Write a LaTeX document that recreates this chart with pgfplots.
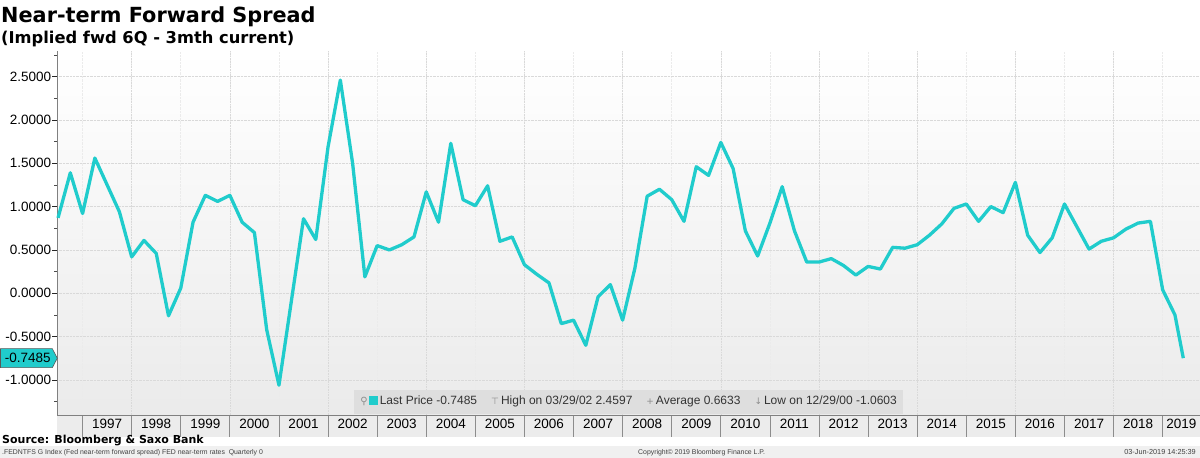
\documentclass[border=0pt]{standalone}
\usepackage{fontspec}
\setmainfont{Liberation Sans}
\newfontfamily\titlefont{DejaVu Sans}
\newfontfamily\symfont{DejaVu Sans}
\usepackage{pgfplots}
\pgfplotsset{compat=1.18}
\definecolor{bbcyan}{RGB}{32,204,204}
\definecolor{bandgray}{RGB}{236,236,236}
\definecolor{leggray}{RGB}{222,222,222}
\definecolor{footgray}{RGB}{240,240,240}

\pgfplotstableread{
x y
1996.50 0.87
1996.75 1.39
1997.00 0.92
1997.25 1.56
1997.50 1.25
1997.75 0.94
1998.00 0.42
1998.25 0.61
1998.50 0.46
1998.75 -0.26
1999.00 0.06
1999.25 0.82
1999.50 1.13
1999.75 1.06
2000.00 1.13
2000.25 0.82
2000.50 0.70
2000.75 -0.42
2001.00 -1.0603
2001.25 -0.10
2001.50 0.86
2001.75 0.62
2002.00 1.69
2002.25 2.4597
2002.50 1.50
2002.75 0.19
2003.00 0.55
2003.25 0.50
2003.50 0.56
2003.75 0.65
2004.00 1.17
2004.25 0.82
2004.50 1.73
2004.75 1.08
2005.00 1.01
2005.25 1.24
2005.50 0.60
2005.75 0.65
2006.00 0.33
2006.25 0.22
2006.50 0.12
2006.75 -0.35
2007.00 -0.31
2007.25 -0.60
2007.50 -0.04
2007.75 0.10
2008.00 -0.31
2008.25 0.29
2008.50 1.12
2008.75 1.20
2009.00 1.08
2009.25 0.83
2009.50 1.46
2009.75 1.36
2010.00 1.74
2010.25 1.44
2010.50 0.72
2010.75 0.43
2011.00 0.81
2011.25 1.23
2011.50 0.72
2011.75 0.36
2012.00 0.36
2012.25 0.40
2012.50 0.32
2012.75 0.21
2013.00 0.31
2013.25 0.28
2013.50 0.53
2013.75 0.52
2014.00 0.56
2014.25 0.67
2014.50 0.80
2014.75 0.98
2015.00 1.03
2015.25 0.83
2015.50 1.00
2015.75 0.93
2016.00 1.28
2016.25 0.67
2016.50 0.47
2016.75 0.64
2017.00 1.03
2017.25 0.77
2017.50 0.51
2017.75 0.60
2018.00 0.64
2018.25 0.74
2018.50 0.81
2018.75 0.83
2019.00 0.04
2019.25 -0.25
2019.42 -0.7485
}\spread

\begin{document}
\begin{tikzpicture}
\useasboundingbox (0pt,0pt) rectangle (1200pt,458pt);
\fill[white] (0pt,0pt) rectangle (1200pt,458pt);
\fill[bandgray] (57.3pt,21pt) rectangle (1200pt,43pt);
\fill[footgray] (0pt,0pt) rectangle (1200pt,12pt);
\begin{axis}[
  at={(57.3pt,43pt)}, anchor=south west,
  scale only axis, width=1142.7pt, height=364pt,
  xmin=1996.485, xmax=2019.76, ymin=-1.404, ymax=2.795,
  clip=false,
  axis background/.style={top color=white, bottom color=black!8},
  separate axis lines,
  axis x line*=bottom, axis y line*=left,
  axis line style={draw=black!50, line width=0.8pt, -},
  tick align=outside,
  major tick length=0pt,
  minor tick length=22pt,
  ytick={-1,-0.5,0,0.5,1,1.5,2,2.5},
  yticklabel style={/pgf/number format/fixed, /pgf/number format/fixed zerofill,
    /pgf/number format/precision=4, /pgf/number format/assume math mode=true,
    inner sep=1pt, xshift=-5pt},
  tick label style={font=\fontsize{13.5}{15}\selectfont, text=black},
  xtick={1997.5,1998.5,1999.5,2000.5,2001.5,2002.5,2003.5,2004.5,2005.5,2006.5,2007.5,2008.5,2009.5,2010.5,2011.5,2012.5,2013.5,2014.5,2015.5,2016.5,2017.5,2018.5,2019.38},
  xticklabels={1997,1998,1999,2000,2001,2002,2003,2004,2005,2006,2007,2008,2009,2010,2011,2012,2013,2014,2015,2016,2017,2018,2019},
  xticklabel style={anchor=north, inner sep=0pt, yshift=-4pt},
  minor xtick={1997,1998,1999,2000,2001,2002,2003,2004,2005,2006,2007,2008,2009,2010,2011,2012,2013,2014,2015,2016,2017,2018,2019},
  every minor tick/.append style={draw=black!45, line width=0.8pt},
  xminorgrids=true, ymajorgrids=true, xmajorgrids=false,
  minor grid style={densely dotted, draw=black!8, line width=0.6pt},
  major grid style={densely dotted, draw=black!15, line width=0.6pt},
]
\pgfplotsinvokeforeach{1998,2000,2002,2004,2006,2008,2010,2012,2014,2016,2018}{
  \draw[densely dotted, draw=black!15, line width=0.6pt] (axis cs:#1,-1.404) -- (axis cs:#1,2.795);
}
\addplot[bbcyan, line width=3.3pt, line join=round] table[x=x, y=y] {\spread};
\pgfplotsinvokeforeach{-1.25,-0.75,-0.25,0.25,0.75,1.25,1.75,2.25,2.75}{
  \draw[black!70, line width=0.7pt] (axis cs:1996.485,#1) -- ++(-3pt,0pt);
}
\pgfplotsinvokeforeach{-1,-0.5,0,0.5,1,1.5,2,2.5}{
  \draw[black!85, line width=0.8pt] (axis cs:1996.485,#1) -- ++(-5pt,0pt);
}
\coordinate (tag) at (axis cs:1996.485,-0.7485);
\node[fill=leggray, inner xsep=6pt, inner ysep=0pt, minimum height=24pt, anchor=south,
  font=\fontsize{12}{14}\selectfont, text=black!80] at (rel axis cs:0.5,0.003)
  {{\symfont\color{black!45}\fontsize{10}{12}\selectfont ⚲}\kern1pt{\color{bbcyan}\rule{9pt}{9pt}}\kern2pt Last Price -0.7485\hspace{14pt}%
   {\symfont\color{black!45}\fontsize{9}{12}\selectfont ⊤}\kern2pt High on 03/29/02 2.4597\hspace{14pt}%
   {\symfont\color{black!45}\fontsize{9}{12}\selectfont +}\kern2pt Average 0.6633\hspace{14pt}%
   {\symfont\color{black!45}\fontsize{9}{12}\selectfont ↓}\kern2pt Low on 12/29/00 -1.0603};
\end{axis}
% last price tag
\draw[fill=bbcyan, draw=black!65, line width=0.6pt] (tag) -- ++(-5pt,9.5pt) -- ++(-51.8pt,0pt) -- ++(0pt,-19pt) -- ++(51.8pt,0pt) -- cycle;
\node[anchor=east, inner sep=0pt, font=\fontsize{13.5}{15}\selectfont] at ([xshift=-6.5pt]tag) {-0.7485};
% titles
\node[anchor=base west, inner sep=0pt, font=\titlefont\bfseries\fontsize{20.8}{24}\selectfont] at (1pt,435.7pt) {Near-term Forward Spread};
\node[anchor=base west, inner sep=0pt, font=\titlefont\bfseries\fontsize{16.3}{19}\selectfont] at (1pt,414.7pt) {(Implied fwd 6Q - 3mth current)};
% footer
\node[anchor=base west, inner sep=0pt, font=\titlefont\bfseries\fontsize{11}{13}\selectfont] at (2pt,14pt) {Source: Bloomberg \& Saxo Bank};
\node[anchor=base west, inner sep=0pt, font=\fontsize{6.9}{8}\selectfont, text=black!75] at (2pt,3pt) {.FEDNTFS G Index (Fed near-term forward spread) FED near-term rates\ \ Quarterly 0};
\node[anchor=base west, inner sep=0pt, font=\fontsize{6.9}{8}\selectfont, text=black!75] at (638pt,3pt) {Copyright© 2019 Bloomberg Finance L.P.};
\node[anchor=base east, inner sep=0pt, font=\fontsize{7.3}{8}\selectfont, text=black!75] at (1196pt,3pt) {03-Jun-2019 14:25:39};
\end{tikzpicture}
\end{document}
